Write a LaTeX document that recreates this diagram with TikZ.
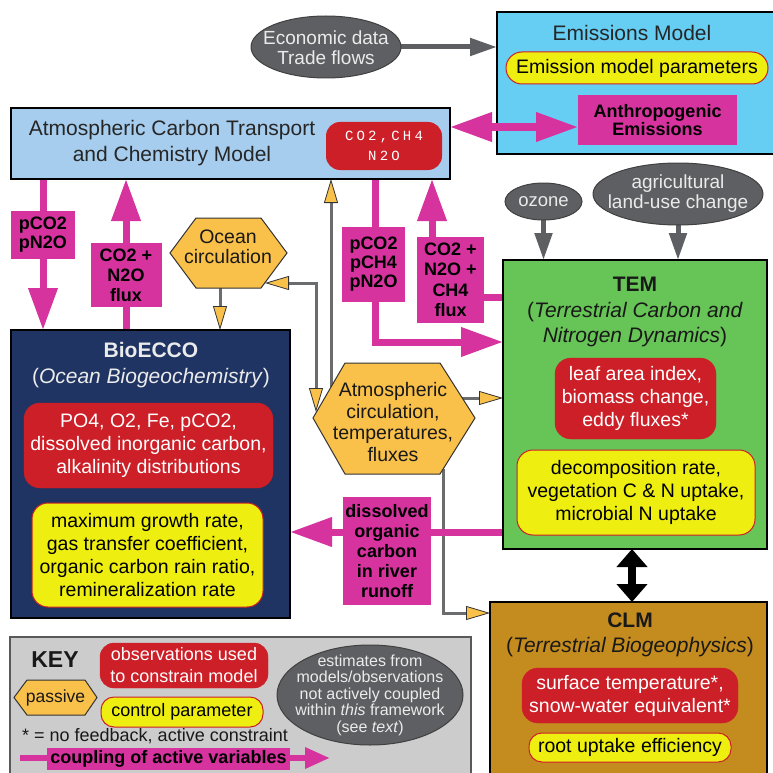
\documentclass[tikz,border=0pt]{standalone}
\usepackage{fontspec}
\setmainfont{Liberation Sans}
\newfontfamily\codefont{Liberation Mono}
\usetikzlibrary{arrows.meta,shapes.geometric}
\definecolor{pinkc}{HTML}{D6339F}
\definecolor{redc}{HTML}{CC1F27}
\definecolor{yelc}{HTML}{EEEE11}
\definecolor{hexyel}{HTML}{F9C04A}
\definecolor{greyc}{HTML}{5E5F62}
\definecolor{lineg}{HTML}{6B6C6E}
\definecolor{navyc}{HTML}{1F3462}
\definecolor{atmblue}{HTML}{A6CDEE}
\definecolor{cyanc}{HTML}{66CDF3}
\definecolor{greenc}{HTML}{67C456}
\definecolor{clmc}{HTML}{C48B1F}
\definecolor{keyg}{HTML}{CCCCCC}
\pgfdeclarelayer{bg}
\pgfsetlayers{bg,main}
\begin{document}
\begin{tikzpicture}[x=1pt,y=-1pt,
  every node/.style={inner sep=0pt,outer sep=0pt},
  bodyf/.style={font=\fontsize{19.5}{23}\selectfont},
  titlef/.style={font=\fontsize{21}{25.5}\selectfont},
  bigbox/.style={draw=black,line width=2.5pt,anchor=north west},
  redbox/.style={fill=redc,draw=redc,rounded corners=16pt,text=white,align=center,bodyf},
  yelbox/.style={fill=yelc,draw=redc,line width=1pt,rounded corners=16pt,text=black,align=center,bodyf},
  pklab/.style={fill=pinkc,text=black,align=center,font=\bfseries\fontsize{18}{20}\selectfont},
  greyell/.style={ellipse,fill=greyc,draw=black!75,line width=1pt},
  greytext/.style={text=white!92!black,align=center,font=\fontsize{19}{20}\selectfont},
  hexst/.style={fill=hexyel,draw=black!80,line width=1pt,line join=miter},
  pk/.style={draw=pinkc,line width=7pt,-{Triangle[length=42pt,width=28pt]}},
  pkboth/.style={draw=pinkc,line width=7pt,{Triangle[length=42pt,width=28pt]}-{Triangle[length=42pt,width=28pt]}},
  pkkey/.style={draw=pinkc,line width=6pt,-{Triangle[length=25pt,width=20pt]}},
  gy/.style={draw=lineg,line width=3pt,-{Triangle[length=24pt,width=14pt,color=black!80,fill=hexyel,line width=0.8pt]}},
  gyboth/.style={draw=lineg,line width=3pt,{Triangle[length=24pt,width=14pt,color=black!80,fill=hexyel,line width=0.8pt]}-{Triangle[length=24pt,width=14pt,color=black!80,fill=hexyel,line width=0.8pt]}},
  dg/.style={draw=greyc,line width=5pt,-{Triangle[length=27pt,width=17pt]}},
  blk/.style={draw=black,line width=8pt,{Triangle[length=18pt,width=30pt]}-{Triangle[length=18pt,width=30pt]}}
]
\useasboundingbox (0,0) rectangle (772,773);

% ---- big model boxes
\node[bigbox,fill=cyanc,minimum width=277pt,minimum height=142pt] (emis) at (497,12) {};
\node[bigbox,fill=atmblue,minimum width=439pt,minimum height=71pt] (atmos) at (11,108) {};
\node[bigbox,fill=greenc,minimum width=264pt,minimum height=289pt] (tem) at (503,260) {};
\node[bigbox,fill=navyc,minimum width=279pt,minimum height=288pt] (bio) at (11,330) {};
\node[bigbox,fill=clmc,minimum width=277pt,minimum height=176pt] (clm) at (490,602) {};
\node[draw=black!65,line width=2pt,fill=keyg,anchor=north west,minimum width=461pt,minimum height=140pt] (key) at (10,637) {};

% ---- Emissions model
\node[titlef,text=black!85] (emistitle) at (632,33) {Emissions Model};
\node[yelbox,minimum width=262pt,minimum height=32pt] (emparam) at (637,68) {Emission model parameters};
\node[pklab,minimum width=159pt,minimum height=50pt,font=\bfseries\fontsize{18}{18.5}\selectfont] (anthro) at (657.5,120) {Anthropogenic\\Emissions};

% ---- Atmospheric transport
\node[titlef,align=center,text=black!85] (atmostext) at (172,143) {Atmospheric Carbon Transport\\and Chemistry Model};
\node[fill=redc,rounded corners=14pt,minimum width=116pt,minimum height=48pt,text=white,align=center,font=\codefont\fontsize{14}{20}\selectfont] (obsatm) at (384,146)
  {C\kern3.2pt O\kern3.2pt 2\kern3.2pt ,\kern3.2pt C\kern3.2pt H\kern3.2pt 4\\N\kern3.2pt 2\kern3.2pt O};

% coupling between atmosphere and emissions (drawn over the emissions box)
\draw[pkboth] ([yshift=-7pt]anthro.west -| atmos.east) -- ([yshift=-7pt]anthro.west);

% ---- grey ellipses
\node[greyell,minimum width=150pt,minimum height=62pt] (econ) at (326,47) {};
\node[greytext] (econtext) at (326,48) {Economic data\\Trade flows};
\node[greyell,minimum width=77pt,minimum height=37pt] (ozone) at (543.5,201.5) {};
\node[greytext,font=\fontsize{18.5}{20}\selectfont] (ozonetext) at (543.5,202) {ozone};
\node[greyell,minimum width=170pt,minimum height=62pt] (agri) at (678,194) {};
\node[greytext] (agritext) at (678,194) {agricultural\\land-use change};

% ---- TEM
\node[titlef,align=center,text=black!90] (temtitle) at (635,312) {\textbf{TEM}\\(\textit{Terrestrial Carbon and}\\\textit{Nitrogen Dynamics})};
\node[redbox,minimum width=161pt,minimum height=81pt] (temred) at (635.5,398.5) {leaf area index,\\biomass change,\\eddy fluxes*};
\node[yelbox,minimum width=238pt,minimum height=85pt] (temyel) at (636,492.5) {decomposition rate,\\vegetation C \& N uptake,\\microbial N uptake};

% ---- BioECCO
\node[titlef,align=center,text=white!92!black] (biotitle) at (151,365) {\textbf{BioECCO}\\(\textit{Ocean Biogeochemistry})};
\node[redbox,minimum width=249pt,minimum height=85pt] (biored) at (148.5,445.5) {PO4, O2, Fe, pCO2,\\dissolved inorganic carbon,\\alkalinity distributions};
\node[yelbox,minimum width=231pt,minimum height=104pt,font=\fontsize{19.5}{22.7}\selectfont] (bioyel) at (147.5,555) {maximum growth rate,\\gas transfer coefficient,\\organic carbon rain ratio,\\remineralization rate};

% ---- CLM
\node[titlef,align=center,text=black!90] (clmtitle) at (630,635) {\textbf{CLM}\\(\textit{Terrestrial Biogeophysics})};
\node[redbox,minimum width=216pt,minimum height=55pt] (clmred) at (630,695.5) {surface temperature*,\\snow-water equivalent*};
\node[yelbox,minimum width=202pt,minimum height=29pt,rounded corners=13pt] (clmyel) at (630,747.5) {root uptake efficiency};

% ---- passive hexagons
\draw[hexst] (170,253) -- (196,218) -- (261,218) -- (287,253) -- (261,288) -- (196,288) -- cycle;
\node[align=center,font=\fontsize{19.5}{20}\selectfont,text=black!90] (ocean) at (228,247) {Ocean\\circulation};
\draw[hexst] (313,418) -- (345,363) -- (440,363) -- (475,418) -- (440,474) -- (345,474) -- cycle;
\node[align=center,font=\fontsize{19.5}{21.5}\selectfont,text=black!90] (atmcirc) at (393,422) {Atmospheric\\circulation,\\temperatures,\\fluxes};

% ---- pink coupling labels
\node[pklab,minimum width=64pt,minimum height=48pt,font=\bfseries\fontsize{18}{19}\selectfont] (pk1) at (43,235) {pCO2\\pN2O};
\node[pklab,minimum width=71pt,minimum height=64pt] (pk2) at (126,275) {CO2 +\\N2O\\flux};
\node[pklab,minimum width=63pt,minimum height=75pt,font=\bfseries\fontsize{18}{19}\selectfont] (pk3) at (373.5,264.5) {pCO2\\pCH4\\pN2O};
\node[pklab,minimum width=67pt,minimum height=86pt,font=\bfseries\fontsize{18}{20.5}\selectfont] (pk4) at (450.5,280) {CO2 +\\N2O +\\CH4\\flux};
\node[pklab,minimum width=88pt,minimum height=108pt] (pk5) at (387,551) {dissolved\\organic\\carbon\\in river\\runoff};

% ---- connector end points on the hexagons
\coordinate (ocb) at (220,288);
\coordinate (ocr) at (265,283);
\coordinate (acl) at (316,412);
\coordinate (act) at (331,387);
\coordinate (acr) at (462,398);
\coordinate (acb) at (443,469);

\begin{pgfonlayer}{bg}
  \draw[dg] (econ.east) -- (econ.east -| emis.west);
  \draw[dg] (ozone.south) -- (ozone.south |- tem.north);
  \draw[dg] (agri.south) -- (agri.south |- tem.north);
  \draw[gy] (ocb) -- (ocb |- bio.north);
  \draw[gyboth] (acl) |- (ocr);
  \draw[gy] (act) -- (act |- atmos.south);
  \draw[gy] (acr) -- (acr -| tem.west);
  \draw[gy] (acb) |- (clm.west |- 0,613);
  \draw[pk] (pk1.north |- atmos.south) -- (pk1.south |- bio.north);
  \draw[pk] (pk2.south |- bio.north) -- (pk2.north |- atmos.south);
  \draw[pk] (375,0 |- atmos.south) |- (tem.west |- 0,342);
  \draw[pk] (tem.west |- 0,297) -| (432,0 |- atmos.south);
  \draw[pk] (tem.west |- 0,532) -- (bio.east |- 0,532);
  \draw[blk] (632,0 |- tem.south) -- (632,0 |- clm.north);
\end{pgfonlayer}

% ---- KEY
\node[font=\bfseries\fontsize{23}{23}\selectfont,text=black!90] (keytitle) at (55,660) {KEY};
\node[redbox,minimum width=168pt,minimum height=45pt,rounded corners=14pt,font=\fontsize{18}{22}\selectfont] (keyred) at (184,665.5) {observations used\\to constrain model};
\draw[hexst] (14,697.5) -- (27,680) -- (85,680) -- (97,697.5) -- (85,715) -- (27,715) -- cycle;
\node[font=\fontsize{17.5}{18}\selectfont,text=black!90] (keypassive) at (55.5,697.5) {passive};
\node[yelbox,minimum width=162pt,minimum height=30pt,rounded corners=13pt,font=\fontsize{18}{20}\selectfont] (keyyel) at (182,712) {control parameter};
\node[font=\fontsize{18}{20}\selectfont,text=black!90] (keystar) at (155,736) {* = no feedback, active constraint};
\coordinate (cpA) at (20,758);
\coordinate (cpB) at (330,758);
\draw[pkkey] (cpA) -- (cpB);
\node[pklab,minimum width=243pt,minimum height=22pt,font=\bfseries\fontsize{18}{18}\selectfont] (cplab) at (168.5,759) {coupling of active variables};
\node[greyell,minimum width=186pt,minimum height=100pt] (estell) at (370,695) {};
\node[greytext,font=\fontsize{16}{16.5}\selectfont] (esttext) at (370,695) {estimates from\\models/observations\\not actively coupled\\within \textit{this} framework\\(see \textit{text})};
\end{tikzpicture}
\end{document}
